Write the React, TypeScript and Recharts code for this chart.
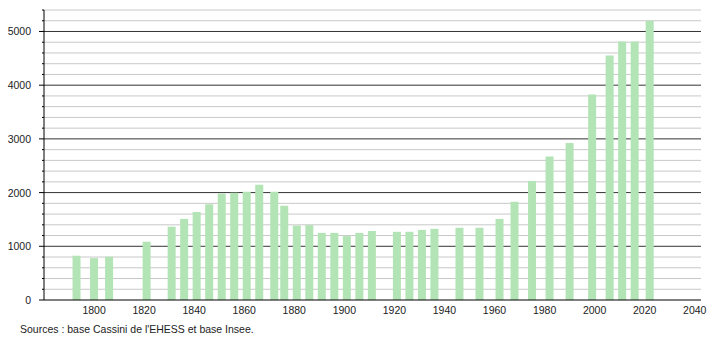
import { BarChart, Bar, XAxis, YAxis, CartesianGrid } from "recharts";

const years = [
  1793, 1800, 1806, 1821, 1831, 1836, 1841, 1846, 1851, 1856, 1861, 1866, 1872,
  1876, 1881, 1886, 1891, 1896, 1901, 1906, 1911, 1921, 1926, 1931, 1936, 1946,
  1954, 1962, 1968, 1975, 1982, 1990, 1999, 2006, 2011, 2016, 2022
];
const population = [
  825, 780, 805, 1085, 1365, 1510, 1640, 1785, 1985, 1995, 2015, 2145, 2015,
  1755, 1385, 1395, 1250, 1250, 1190, 1250, 1285, 1270, 1270, 1305, 1325, 1345,
  1345, 1510, 1830, 2215, 2670, 2925, 3825, 4555, 4815, 4815, 5200
];
const xTicks = [1800, 1820, 1840, 1860, 1880, 1900, 1920, 1940, 1960, 1980, 2000, 2020, 2040];
const minorValues = [200, 400, 600, 800, 1200, 1400, 1600, 1800, 2200, 2400, 2600, 2800, 3200, 3400, 3600, 3800, 4200, 4400, 4600, 4800, 5200, 5400];
const majorValues = [1000, 2000, 3000, 4000, 5000];
const yTicks = [0, ...minorValues, ...majorValues].sort((a, b) => a - b);

const data = years.map((y, i) => ({ year: y, pop: population[i] }));

const font = "'Liberation Sans', Arial, sans-serif";

function YTick(props: any) {
  const { x, y, payload } = props;
  const major = payload.value % 1000 === 0;
  return (
    <g>
      <line x1={x - (major ? 5 : 2)} x2={x} y1={y} y2={y} stroke="#000" />
      {major && (
        <text x={x - 13} y={y + 4} textAnchor="end" fontSize={10.5} fontFamily={font} fill="#222">
          {payload.value}
        </text>
      )}
    </g>
  );
}

export default function App() {
  return (
    <div style={{ position: "absolute", left: 0, top: 0, width: 710, height: 340, background: "#fff" }}>
      <BarChart
        width={710}
        height={340}
        data={data}
        margin={{ top: 10, right: 9, bottom: 20, left: 0 }}
      >
        <CartesianGrid horizontalValues={minorValues} vertical={false} stroke="#c8c8c8" />
        <CartesianGrid horizontalValues={majorValues} vertical={false} stroke="#333" />
        <XAxis
          dataKey="year"
          type="number"
          domain={[1780, 2042.5]}
          ticks={xTicks}
          height={20}
          tickLine={false}
          axisLine={{ stroke: "#000" }}
          tick={{ fontSize: 10.5, fontFamily: font, fill: "#222" }}
          tickMargin={1}
          interval={0}
          allowDataOverflow
        />
        <YAxis
          type="number"
          domain={[0, 5400]}
          ticks={yTicks}
          width={44}
          tickSize={0}
          tickMargin={0}
          interval={0}
          axisLine={{ stroke: "#000" }}
          tick={<YTick />}
        />
        <Bar dataKey="pop" fill="#b3e4b5" barSize={8} isAnimationActive={false} />
      </BarChart>
      <div
        style={{
          position: "absolute",
          left: 20,
          top: 323,
          fontSize: 10.5,
          fontFamily: font,
          color: "#222",
          whiteSpace: "nowrap"
        }}
      >
        Sources : base Cassini de l'EHESS et base Insee.
      </div>
    </div>
  );
}
